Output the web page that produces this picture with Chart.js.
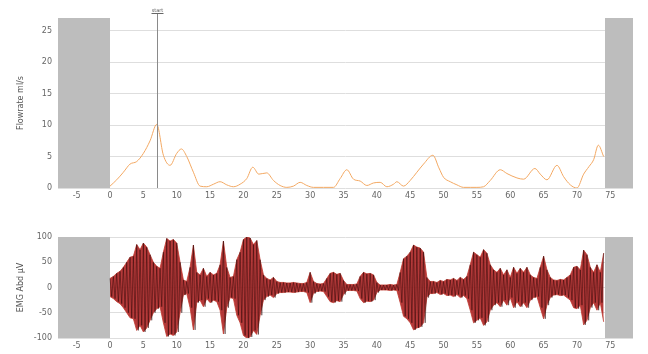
<!DOCTYPE html>
<html><head><meta charset="utf-8">
<script src="https://cdn.jsdelivr.net/npm/chart.js@4.4.1/dist/chart.umd.min.js"></script>
<style>
html,body{margin:0;padding:0;background:#fff;}
#wrap{position:relative;width:648px;height:354px;}
#c1{position:absolute;left:0;top:0;}
#c2{position:absolute;left:0;top:205px;}
</style></head>
<body><div id="wrap"><canvas id="c1" width="648" height="205"></canvas><canvas id="c2" width="648" height="149"></canvas></div>
<script>
// ---- data ----
const xRange = [-7.8, 78.4];
const leftShade = [-7.8, 0];
const rightShade = [74.2, 78.4];
const markerTime = 7;
const markerLabel = "start";
const flowTitle = "Flowrate ml/s";
const emgTitle = "EMG Abd µV";
const flowTimes = [0,1,2,3,4,5,6,7,8,9,10,10.7,11.5,12.5,13.5,14.5,15.5,16.5,17.5,18.5,19.5,20.5,21.4,22.3,23.5,24.5,25.5,26.5,27.5,28.5,29.5,30.5,32,33.5,34.5,35.5,36.5,37.5,38.5,39.5,40.5,41.5,42.5,43,44,45,46,47,48.4,49.3,50,51,52,53,54,55,56,57,58.5,59.5,61,62,63.7,64.5,65.5,67,68,69,70,71,71.8,72.5,73.2,74];
const flowValues = [0.3,1.3,2.5,3.8,4.2,5.5,7.5,10.1,5.2,3.6,5.5,6.2,5,2.5,0.3,0.2,0.6,1.0,0.5,0.2,0.6,1.5,3.3,2.2,2.4,1.2,0.4,0.1,0.3,0.9,0.4,0.1,0.1,0.1,1.5,2.9,1.4,1.1,0.4,0.8,0.9,0.2,0.6,1.0,0.3,1.2,2.5,3.8,5.2,3.2,1.7,1.0,0.5,0.1,0.1,0.1,0.2,1.2,2.9,2.3,1.6,1.4,3.1,2.2,1.3,3.6,1.8,0.5,0.0,2.2,3.4,4.5,6.8,5.0];
const emgStart = 0, emgStep = 0.5;
const emgAmplitude = [18,22,28,32,40,50,60,62,85,75,88,80,65,50,42,38,70,97,92,95,88,50,15,12,40,84,30,25,38,22,30,25,28,45,92,40,20,22,55,70,95,100,98,85,93,55,25,18,15,20,12,10,10,9,9,10,9,8,8,10,30,12,8,7,8,18,28,30,26,28,14,6,6,6,7,22,30,27,28,25,10,5,5,5,6,5,6,30,57,62,70,84,80,78,70,20,12,12,10,14,12,16,15,18,14,20,16,22,45,70,65,60,75,68,45,35,30,38,25,35,20,40,28,38,30,40,25,20,18,40,62,35,20,15,14,16,15,20,25,40,42,35,74,65,40,30,45,30,68];
const flowTicks = {min:0, max:27, step:5};
const emgTicks = {min:-100, max:100, step:50};

// ---- build ----
const shadeColor = '#bdbdbd';
const tickFont = {family:'DejaVu Sans', size:8};
function shade(range, top){ return {type:'line', data:[{x:range[0],y:top},{x:range[1],y:top}], fill:'start', backgroundColor:shadeColor, borderWidth:0, pointRadius:0, order:10}; }
function xScale(){ return {type:'linear', min:xRange[0], max:xRange[1], grid:{display:false, drawTicks:false, tickLength:0}, border:{display:false},
  ticks:{stepSize:5, includeBounds:false, font:tickFont, color:'#666', padding:3, maxRotation:0},
  afterFit(s){ s.height = s.chart.height - s.chart._plotBottom; } }; }
function yScale(t, title){ return {type:'linear', min:t.min, max:t.max, grid:{color:'#dedede', drawTicks:false}, border:{display:false},
  ticks:{stepSize:t.step, includeBounds:false, font:tickFont, color:'#666', padding:6},
  title:{display:true, text:title, font:{family:'DejaVu Sans', size:8}, color:'#555', padding:{top:0,bottom:4}},
  afterFit(s){ s.width = 42; } }; }

const markerPlugin = {id:'marker', afterDatasetsDraw(chart){
  const xs = chart.scales.x, ctx = chart.ctx;
  const px = Math.round(xs.getPixelForValue(markerTime))+0.5;
  ctx.save(); ctx.strokeStyle='#8a8a8a'; ctx.lineWidth=1;
  ctx.beginPath(); ctx.moveTo(px, chart.chartArea.bottom); ctx.lineTo(px, 13); ctx.stroke();
  ctx.fillStyle='#555'; ctx.font='5px DejaVu Sans'; ctx.textAlign='center'; ctx.textBaseline='bottom';
  ctx.fillText(markerLabel, px, 13);
  ctx.fillStyle='#666'; ctx.fillRect(px-6, 13, 12, 1);
  ctx.restore(); }};

const flowPts = flowTimes.map((t,i)=>({x:t, y:flowValues[i]}));
const c1 = new Chart(document.getElementById('c1'), {
  type:'line',
  data:{datasets:[
    {data:flowPts, borderColor:'#f3a862', borderWidth:1, pointRadius:0, cubicInterpolationMode:'monotone', fill:false, order:1},
    shade(leftShade, flowTicks.max), shade(rightShade, flowTicks.max)
  ]},
  options:{animation:false, responsive:false,
    layout:{padding:{top:18, right:15, left:16, bottom:0}},
    plugins:{legend:{display:false}, tooltip:{enabled:false}},
    scales:{x:xScale(), y:yScale(flowTicks, flowTitle)}},
  plugins:[{id:'pb', beforeInit(ch){ ch._plotBottom = 188; }}, markerPlugin]
});

// each read amplitude sample gives one positive and one negative swing
const emgUpper = emgAmplitude.map((a,i)=>({x:emgStart+i*emgStep, y:a}));
const emgLower = emgAmplitude.map((a,i)=>({x:emgStart+i*emgStep, y:-a}));
const emgZig = [];
emgAmplitude.forEach((a,i)=>{ const t=emgStart+i*emgStep; emgZig.push({x:t, y:a}); emgZig.push({x:t+emgStep/2, y:-a}); });
emgZig.pop();
const c2 = new Chart(document.getElementById('c2'), {
  type:'line',
  data:{datasets:[
    {data:emgUpper, borderColor:'#c0392f', borderWidth:0.8, pointRadius:0, fill:false, order:3},
    {data:emgLower, borderColor:'#c0392f', borderWidth:0.8, pointRadius:0, fill:'-1', backgroundColor:'rgba(172,36,36,0.9)', order:3},
    {data:emgZig, borderColor:'rgba(40,4,4,0.6)', borderWidth:0.8, pointRadius:0, fill:false, order:2},
    shade(leftShade, emgTicks.max), shade(rightShade, emgTicks.max)
  ]},
  options:{animation:false, responsive:false,
    layout:{padding:{top:32, right:15, left:16, bottom:0}},
    plugins:{legend:{display:false}, tooltip:{enabled:false}},
    scales:{x:xScale(), y:yScale(emgTicks, emgTitle)}},
  plugins:[{id:'pb', beforeInit(ch){ ch._plotBottom = 133; }}]
});
</script></body></html>
